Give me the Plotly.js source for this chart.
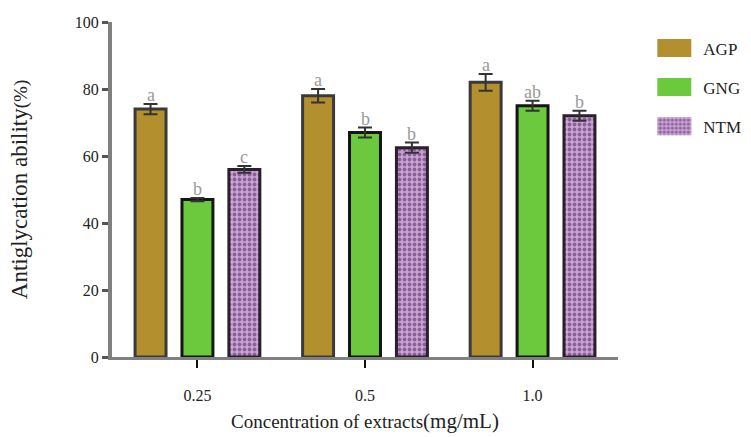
<!DOCTYPE html>
<html>
<head>
<meta charset="utf-8">
<script src="https://cdn.plot.ly/plotly-3.0.1.min.js"></script>
<style>
html,body{margin:0;padding:0;background:#fff;}
#chart{width:751px;height:437px;}
.legend .legendpoints path{stroke-width:0 !important;}
</style>
</head>
<body>
<div id="chart"></div>
<script>
const categories = ["0.25", "0.5", "1.0"];
const seriesNames = ["AGP", "GNG", "NTM"];
const agp = [74, 78, 82];
const agpErr = [1.5, 2, 2.5];
const gng = [47, 67, 75];
const gngErr = [0.5, 1.5, 1.5];
const ntm = [56, 62.5, 72];
const ntmErr = [1, 1.5, 1.5];
const agpLetters = ["a", "a", "a"];
const gngLetters = ["b", "b", "ab"];
const ntmLetters = ["c", "b", "b"];
const yTicks = [0, 20, 40, 60, 80, 100];

const serif = "Liberation Serif, Times New Roman, serif";
const colors = ["#b38f2d", "#6cc83c", "#b68fc2"];
const outline = ["#3a3a3a", "#151515", "#2a1f2a"];
const values = [agp, gng, ntm];
const errs = [agpErr, gngErr, ntmErr];
const letters = [agpLetters, gngLetters, ntmLetters];

const traces = seriesNames.map((name, k) => {
  const t = {
    type: "bar",
    name: name,
    legendgroup: name,
    x: categories,
    y: values[k],
    marker: {color: colors[k], line: {color: outline[k], width: 3}},
    error_y: {type: "data", array: errs[k], visible: true, color: "#333", thickness: 2, width: 7}
  };
  if (k === 2) {
    t.marker.pattern = {shape: ".", fgcolor: "#8c5e9c", bgcolor: "#c9a6d2", size: 5, solidity: 0.45, fillmode: "replace"};
  }
  return t;
});

const slot = 0.28;
const annotations = [];
seriesNames.forEach((name, k) => {
  categories.forEach((c, i) => {
    annotations.push({
      x: i + (k - 1) * slot,
      y: values[k][i] + errs[k][i],
      xref: "x", yref: "y",
      text: letters[k][i],
      showarrow: false,
      yanchor: "bottom",
      yshift: -3,
      font: {family: serif, size: 18, color: "#999"}
    });
  });
});

const layout = {
  width: 751, height: 437,
  margin: {l: 112, r: 133, t: 22, b: 80, autoexpand: false},
  paper_bgcolor: "#fff", plot_bgcolor: "#fff",
  barmode: "group",
  bargap: 0.16,
  bargroupgap: 0.34,
  showlegend: true,
  legend: {
    x: 1.054, y: 0.975, xanchor: "left", yanchor: "top",
    font: {family: serif, size: 17, color: "#222"},
    tracegroupgap: 14, itemwidth: 48,
    bgcolor: "rgba(0,0,0,0)"
  },
  xaxis: {
    type: "category",
    range: [-0.51, 2.51],
    showline: true, linecolor: "#808080", linewidth: 3,
    ticks: "outside", ticklen: 8, tickwidth: 2, tickcolor: "#111",
    ticklabelstandoff: 14,
    tickfont: {family: serif, size: 16, color: "#222"},
    showgrid: false, zeroline: false,
    title: {text: "Concentration of extracts<span style=\"font-size:21px\">(mg/mL)</span>", font: {family: serif, size: 19, color: "#222"}, standoff: 12}
  },
  yaxis: {
    range: [0, 100],
    tickvals: yTicks,
    showline: true, linecolor: "#808080", linewidth: 4,
    ticks: "outside", ticklen: 6, tickwidth: 3, tickcolor: "#555",
    tickfont: {family: serif, size: 16, color: "#222"},
    showgrid: false, zeroline: false,
    title: {text: "Antiglycation ability<span style=\"font-size:19px\">(%)</span>", font: {family: serif, size: 23, color: "#222"}, standoff: 42}
  },
  annotations: annotations
};

Plotly.newPlot("chart", traces, layout, {displayModeBar: false, staticPlot: true}).then(() => {
  document.querySelectorAll(".legend .legendpoints path").forEach(p => {
    p.setAttribute("d", "M17,9H-17V-9H17Z");
  });
});
</script>
</body>
</html>
